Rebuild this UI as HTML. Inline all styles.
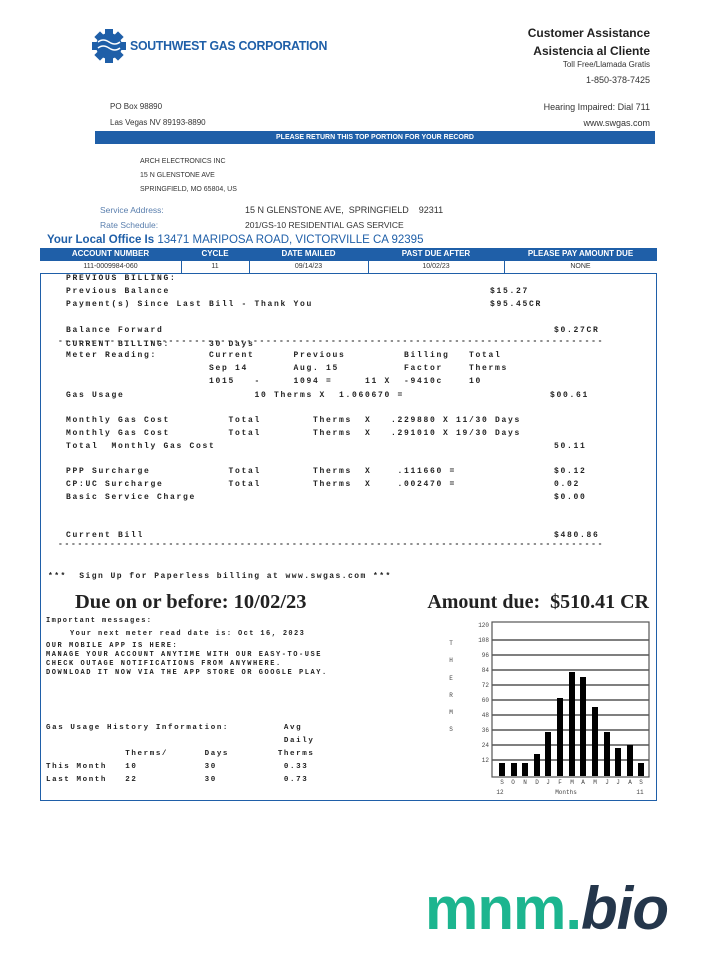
<!DOCTYPE html>
<html><head><meta charset="utf-8"><style>
body{margin:0;width:702px;height:975px;background:#fff;position:relative;overflow:hidden;font-family:"Liberation Sans",sans-serif;}
.a{position:absolute;white-space:pre;}
.m{position:absolute;white-space:pre;font-family:"Liberation Mono",monospace;font-size:8px;font-weight:bold;color:#222;letter-spacing:1.7px;}
.s{font-size:8px;color:#333;}
.bl{color:#1f5fa8;}
</style></head><body>
<!-- logo -->
<svg class="a" style="left:90px;top:28px" width="38" height="36" viewBox="0 0 38 36">
<g fill="#1f5fa8"><circle cx="19" cy="18" r="13"/><rect x="15" y="1" width="8" height="34"/><rect x="2" y="14" width="34" height="8"/><rect x="6" y="5" width="8" height="8" transform="rotate(45 10 9)"/><rect x="24" y="5" width="8" height="8" transform="rotate(45 28 9)"/><rect x="6" y="23" width="8" height="8" transform="rotate(45 10 27)"/><rect x="24" y="23" width="8" height="8" transform="rotate(45 28 27)"/></g>
<path d="M8 14 q5 -4 11 0 t11 0 M8 20 q5 -4 11 0 t11 0" stroke="#fff" stroke-width="1.5" fill="none"/></svg>
<div class="a bl" style="left:130px;top:38px;font-size:13px;font-weight:bold;letter-spacing:-0.3px;transform:scaleX(0.95);transform-origin:left">SOUTHWEST GAS CORPORATION</div>
<div class="a" style="right:52px;top:26px;font-size:12px;font-weight:bold;color:#222">Customer Assistance</div>
<div class="a" style="right:52px;top:44px;font-size:12px;font-weight:bold;color:#222">Asistencia al Cliente</div>
<div class="a s" style="right:52px;top:60px">Toll Free/Llamada Gratis</div>
<div class="a s" style="right:52px;top:75px;font-size:9px">1-850-378-7425</div>
<div class="a s" style="left:110px;top:102px">PO Box 98890</div>
<div class="a s" style="left:110px;top:118px">Las Vegas NV 89193-8890</div>
<div class="a s" style="right:52px;top:102px;font-size:9px">Hearing Impaired: Dial 711</div>
<div class="a s" style="right:52px;top:118px;font-size:9px">www.swgas.com</div>
<div class="a" style="left:95px;top:131px;width:560px;height:13px;background:#1f5fa8;color:#fff;font-size:7px;font-weight:bold;text-align:center;line-height:13px">PLEASE RETURN THIS TOP PORTION FOR YOUR RECORD</div>
<div class="a s" style="left:140px;top:158px;font-size:7px">ARCH ELECTRONICS INC</div>
<div class="a s" style="left:140px;top:172px;font-size:7px">15 N GLENSTONE AVE</div>
<div class="a s" style="left:140px;top:186px;font-size:7px">SPRINGFIELD, MO 65804, US</div>
<div class="a" style="left:100px;top:205px;font-size:8.5px;color:#5a7fae">Service Address:</div>
<div class="a" style="left:100px;top:220px;font-size:8.5px;color:#5a7fae">Rate Schedule:</div>
<div class="a s" style="left:245px;top:205px;font-size:9px">15 N GLENSTONE AVE,  SPRINGFIELD    92311</div>
<div class="a s" style="left:245px;top:220px;font-size:8.5px">201/GS-10 RESIDENTIAL GAS SERVICE</div>
<div class="a bl" style="left:47px;top:234px;font-size:11.5px;font-weight:bold">Your Local Office Is <span style="color:#1f5fa8;font-weight:normal">13471 MARIPOSA ROAD, VICTORVILLE CA 92395</span></div>
<!-- main box -->
<div class="a" style="left:40px;top:248px;width:615px;height:551px;border:1.5px solid #1f5fa8"></div>
<div class="a" style="left:40px;top:248px;width:617px;height:13px;background:#1f5fa8"></div>
<div class="a" style="left:40px;top:261px;width:617px;height:12px;border-bottom:1.5px solid #1f5fa8;background:#fff"></div>
<div class="a" style="left:181px;top:261px;width:1px;height:12px;background:#1f5fa8"></div>
<div class="a" style="left:249px;top:261px;width:1px;height:12px;background:#1f5fa8"></div>
<div class="a" style="left:368px;top:261px;width:1px;height:12px;background:#1f5fa8"></div>
<div class="a" style="left:504px;top:261px;width:1px;height:12px;background:#1f5fa8"></div>
<div class="a" style="left:40px;top:249px;width:141px;text-align:center;color:#fff;font-size:8px;font-weight:bold">ACCOUNT NUMBER</div>
<div class="a" style="left:181px;top:249px;width:68px;text-align:center;color:#fff;font-size:8px;font-weight:bold">CYCLE</div>
<div class="a" style="left:249px;top:249px;width:119px;text-align:center;color:#fff;font-size:8px;font-weight:bold">DATE MAILED</div>
<div class="a" style="left:368px;top:249px;width:136px;text-align:center;color:#fff;font-size:8px;font-weight:bold">PAST DUE AFTER</div>
<div class="a" style="left:504px;top:249px;width:153px;text-align:center;color:#fff;font-size:8px;font-weight:bold">PLEASE PAY AMOUNT DUE</div>
<div class="a s" style="left:40px;top:263px;width:141px;text-align:center;font-size:7px">111-0009984-060</div>
<div class="a s" style="left:181px;top:263px;width:68px;text-align:center;font-size:7px">11</div>
<div class="a s" style="left:249px;top:263px;width:119px;text-align:center;font-size:7px">09/14/23</div>
<div class="a s" style="left:368px;top:263px;width:136px;text-align:center;font-size:7px">10/02/23</div>
<div class="a s" style="left:504px;top:263px;width:153px;text-align:center;font-size:7px">NONE</div>
<div class="m" style="left:66px;top:274px">PREVIOUS BILLING:</div>
<div class="m" style="left:66px;top:287px">Previous Balance</div>
<div class="m" style="left:490px;top:287px">$15.27</div>
<div class="m" style="left:66px;top:300px">Payment(s) Since Last Bill - Thank You</div>
<div class="m" style="left:490px;top:300px">$95.45CR</div>
<div class="m" style="left:66px;top:326px">Balance Forward</div>
<div class="m" style="left:554px;top:326px">$0.27CR</div>
<div class="m" style="left:58px;top:337px">------------------------------------------------------------------------------------</div>
<div class="m" style="left:66px;top:340px">CURRENT BILLING:      30 Days</div>
<div class="m" style="left:66px;top:351px">Meter Reading:        Current      Previous         Billing   Total</div>
<div class="m" style="left:66px;top:364px">                      Sep 14       Aug. 15          Factor    Therms</div>
<div class="m" style="left:66px;top:377px">                      1015   -     1094 =     11 X  -9410c    10</div>
<div class="m" style="left:66px;top:391px">Gas Usage                    10 Therms X  1.060670 =</div>
<div class="m" style="left:550px;top:391px">$00.61</div>
<div class="m" style="left:66px;top:416px">Monthly Gas Cost         Total        Therms  X   .229880 X 11/30 Days</div>
<div class="m" style="left:66px;top:429px">Monthly Gas Cost         Total        Therms  X   .291010 X 19/30 Days</div>
<div class="m" style="left:66px;top:442px">Total  Monthly Gas Cost</div>
<div class="m" style="left:554px;top:442px">50.11</div>
<div class="m" style="left:66px;top:467px">PPP Surcharge            Total        Therms  X    .111660 =</div>
<div class="m" style="left:554px;top:467px">$0.12</div>
<div class="m" style="left:66px;top:480px">CP:UC Surcharge          Total        Therms  X    .002470 =</div>
<div class="m" style="left:554px;top:480px">0.02</div>
<div class="m" style="left:66px;top:493px">Basic Service Charge</div>
<div class="m" style="left:554px;top:493px">$0.00</div>
<div class="m" style="left:66px;top:531px">Current Bill</div>
<div class="m" style="left:554px;top:531px">$480.86</div>
<div class="m" style="left:58px;top:540px">------------------------------------------------------------------------------------</div>
<div class="m" style="left:48px;top:572px;letter-spacing:1.45px">***  Sign Up for Paperless billing at www.swgas.com ***</div>
<div class="a" style="left:75px;top:591px;font-family:'Liberation Serif',serif;font-size:20.5px;font-weight:bold;color:#222">Due on or before: 10/02/23</div>
<div class="a" style="right:53px;top:591px;font-family:'Liberation Serif',serif;font-size:20px;font-weight:bold;color:#222">Amount due:  $510.41 CR</div>
<div class="m" style="left:46px;top:617px;font-size:7px;letter-spacing:1.4px">Important messages:</div>
<div class="m" style="left:70px;top:630px;font-size:7px;letter-spacing:1.4px">Your next meter read date is: Oct 16, 2023</div>
<div class="m" style="left:46px;top:642px;font-size:7px;letter-spacing:1.55px;line-height:9px">OUR MOBILE APP IS HERE:
MANAGE YOUR ACCOUNT ANYTIME WITH OUR EASY-TO-USE
CHECK OUTAGE NOTIFICATIONS FROM ANYWHERE.
DOWNLOAD IT NOW VIA THE APP STORE OR GOOGLE PLAY.</div>
<div class="m" style="left:46px;top:722px;font-size:7.5px;letter-spacing:1.6px;line-height:13px">Gas Usage History Information:         Avg
                                       Daily
             Therms/      Days        Therms
This Month   10           30           0.33
Last Month   22           30           0.73</div>
<!-- chart -->
<svg class="a" style="left:440px;top:615px" width="220" height="185" viewBox="440 615 220 185">
<rect x="492" y="622" width="157" height="155" fill="#fff" stroke="#555" stroke-width="1.2"/>
<g stroke="#555" stroke-width="1.5">
<line x1="492" x2="649" y1="640" y2="640"/><line x1="492" x2="649" y1="655" y2="655"/><line x1="492" x2="649" y1="670" y2="670"/><line x1="492" x2="649" y1="685" y2="685"/><line x1="492" x2="649" y1="700" y2="700"/><line x1="492" x2="649" y1="715" y2="715"/><line x1="492" x2="649" y1="730" y2="730"/><line x1="492" x2="649" y1="745" y2="745"/><line x1="492" x2="649" y1="760" y2="760"/>
</g>
<g fill="#000">
<rect x="499" y="763" width="6" height="13"/><rect x="511" y="763" width="6" height="13"/><rect x="522" y="763" width="6" height="13"/><rect x="534" y="754" width="6" height="22"/><rect x="545" y="732" width="6" height="44"/><rect x="557" y="698" width="6" height="78"/><rect x="569" y="672" width="6" height="104"/><rect x="580" y="677" width="6" height="99"/><rect x="592" y="707" width="6" height="69"/><rect x="604" y="732" width="6" height="44"/><rect x="615" y="748" width="6" height="28"/><rect x="627" y="745" width="6" height="31"/><rect x="638" y="763" width="6" height="13"/>
</g>
<g font-family="Liberation Mono,monospace" font-size="6" fill="#444" text-anchor="end">
<text x="489" y="627">120</text><text x="489" y="642">108</text><text x="489" y="657">96</text><text x="489" y="672">84</text><text x="489" y="687">72</text><text x="489" y="702">60</text><text x="489" y="717">48</text><text x="489" y="732">36</text><text x="489" y="747">24</text><text x="489" y="762">12</text>
</g>
<g font-family="Liberation Mono,monospace" font-size="6" fill="#444" text-anchor="middle">
<text x="451" y="645">T</text><text x="451" y="662">H</text><text x="451" y="680">E</text><text x="451" y="697">R</text><text x="451" y="714">M</text><text x="451" y="731">S</text>
<text x="502" y="784">S</text><text x="513" y="784">O</text><text x="525" y="784">N</text><text x="537" y="784">D</text><text x="548" y="784">J</text><text x="560" y="784">F</text><text x="572" y="784">M</text><text x="583" y="784">A</text><text x="595" y="784">M</text><text x="607" y="784">J</text><text x="618" y="784">J</text><text x="630" y="784">A</text><text x="641" y="784">S</text>
<text x="500" y="794">12</text><text x="566" y="794">Months</text><text x="640" y="794">11</text>
</g>
</svg>
<div class="a" style="left:425px;top:874px;font-size:60px;font-weight:bold;letter-spacing:-1px;color:#1cb58f">mnm.<span style="color:#24364b;font-style:italic">bio</span></div>
</body></html>
